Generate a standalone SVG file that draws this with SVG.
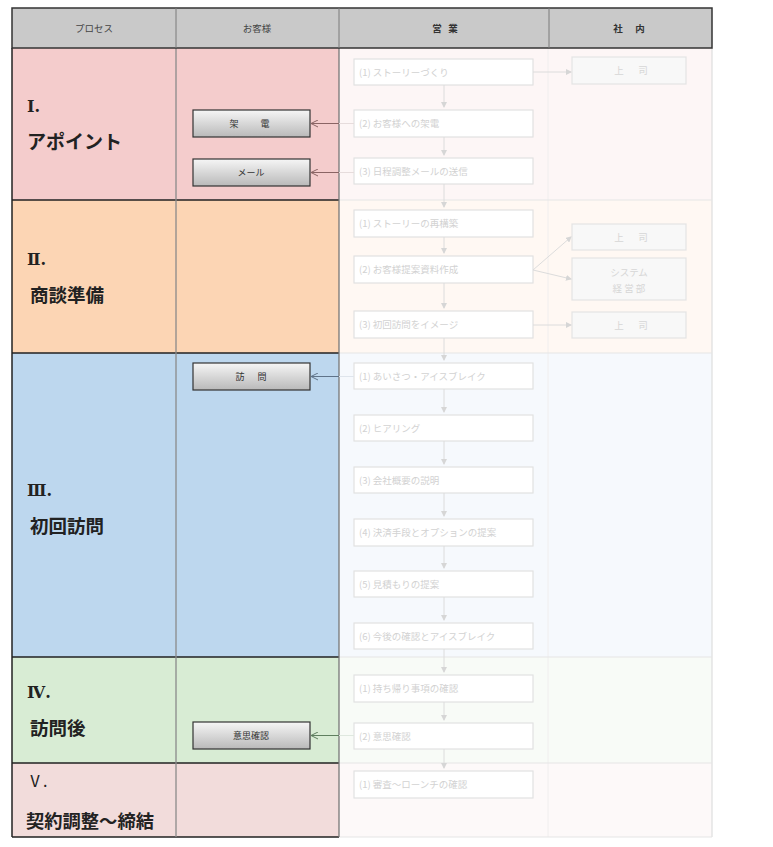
<svg xmlns="http://www.w3.org/2000/svg" width="773" height="847" viewBox="0 0 773 847">
<style>
.hdr{font-family:"Noto Sans CJK JP","Noto Sans",sans-serif;font-size:9.5px;fill:#444;text-anchor:middle}
.lbl{font-family:"Noto Sans CJK JP","Noto Sans",sans-serif;font-weight:bold;fill:#222}
.num{font-family:"DejaVu Serif","Noto Sans CJK JP",serif;font-weight:bold;font-size:16px;fill:#222}
.btn rect{fill:url(#g);stroke:#333;stroke-width:1.2}
.btn text{font-family:"Noto Sans CJK JP","Noto Sans",sans-serif;font-size:9px;fill:#333;text-anchor:middle}
.fb rect{fill:#fff;stroke:#e2e2e2;stroke-width:1.2}
.fb text{font-family:"Noto Sans CJK JP","Noto Sans",sans-serif;font-size:9.5px;fill:#d2d2d2}
.fs rect{fill:#f8f8f8;stroke:#e4e4e4;stroke-width:1.2}
.fs text{font-family:"Noto Sans CJK JP","Noto Sans",sans-serif;font-size:9.5px;fill:#d6d6d6;text-anchor:middle}
.fl{stroke:#dcdcdc;stroke-width:1;fill:none}
</style>
<defs>
<linearGradient id="g" x1="0" y1="0" x2="0" y2="1">
<stop offset="0" stop-color="#f6f6f6"/>
<stop offset="1" stop-color="#b9b9b9"/>
</linearGradient>
<marker id="fa" markerWidth="6" markerHeight="6" refX="5" refY="3" orient="auto" markerUnits="userSpaceOnUse">
<path d="M0,0 L6,3 L0,6 z" fill="#d6d6d6"/>
</marker>
<marker id="oa1" markerWidth="8" markerHeight="8" refX="7" refY="4" orient="auto" markerUnits="userSpaceOnUse">
<path d="M0,0.5 L7,4 L0,7.5" fill="none" stroke="#8a6464" stroke-width="1"/>
</marker>
<marker id="oa3" markerWidth="8" markerHeight="8" refX="7" refY="4" orient="auto" markerUnits="userSpaceOnUse">
<path d="M0,0.5 L7,4 L0,7.5" fill="none" stroke="#5f7389" stroke-width="1"/>
</marker>
<marker id="oa4" markerWidth="8" markerHeight="8" refX="7" refY="4" orient="auto" markerUnits="userSpaceOnUse">
<path d="M0,0.5 L7,4 L0,7.5" fill="none" stroke="#5f7f5f" stroke-width="1"/>
</marker>
</defs>
<rect width="773" height="847" fill="#fff"/>
<g id="backgrounds">
<rect x="12" y="48" width="327" height="152" fill="#f4cccc"/>
<rect x="12" y="200" width="327" height="153" fill="#fcd5b4"/>
<rect x="12" y="353" width="327" height="304" fill="#bdd7ee"/>
<rect x="12" y="657" width="327" height="106" fill="#d8ecd4"/>
<rect x="12" y="763" width="327" height="74" fill="#f2dcdb"/>
<rect x="339" y="48" width="373" height="152" fill="#fdf6f6"/>
<rect x="339" y="200" width="373" height="153" fill="#fff8f3"/>
<rect x="339" y="353" width="373" height="304" fill="#f6f9fd"/>
<rect x="339" y="657" width="373" height="106" fill="#f8fbf7"/>
<rect x="339" y="763" width="373" height="74" fill="#fdf9f9"/>
</g>
<g id="grid">
<line x1="548" y1="48" x2="548" y2="837" stroke="#f0eeee" stroke-width="1"/>
<line x1="712" y1="48" x2="712" y2="837" stroke="#dedede" stroke-width="1.2"/>
<path d="M339,200H712M339,353H712M339,657H712M339,763H712M339,837H712" stroke="#e6e6e6" stroke-width="1.2"/>
<path d="M12,200H339M12,353H339M12,657H339M12,763H339M12,837H339" stroke="#222" stroke-width="1.5"/>
<line x1="12" y1="48" x2="12" y2="837" stroke="#222" stroke-width="1.5"/>
<line x1="176" y1="48" x2="176" y2="837" stroke="#8a8a8a" stroke-width="1.3"/>
<line x1="339" y1="48" x2="339" y2="837" stroke="#777" stroke-width="1.3"/>
</g>
<g id="header">
<rect x="12" y="8" width="700" height="40" fill="#c9c9c9" stroke="#333" stroke-width="1.5"/>
<path d="M176,8V48M339,8V48M549,8V48" stroke="#7a7a7a" stroke-width="1"/>
<text class="hdr" x="94" y="32">プロセス</text>
<text class="hdr" x="257" y="32">お客様</text>
<text class="hdr" x="437 453" y="32" style="font-weight:bold;fill:#333">営業</text>
<text class="hdr" x="618 640" y="32" style="font-weight:bold;fill:#333">社内</text>
</g>
<g id="label-1"><text class="num" x="27" y="112">Ⅰ.</text><text class="lbl" x="27" y="149" font-size="19">アポイント</text></g>
<g id="label-2"><text class="num" x="27" y="265">Ⅱ.</text><text class="lbl" x="30" y="302" font-size="18.5">商談準備</text></g>
<g id="label-3"><text class="num" x="27" y="496">Ⅲ.</text><text class="lbl" x="30" y="533" font-size="18.5">初回訪問</text></g>
<g id="label-4"><text class="num" x="27" y="698">Ⅳ.</text><text class="lbl" x="30" y="735" font-size="18.5">訪問後</text></g>
<g id="label-5"><text class="num" x="27" y="787" style="font-family:'Noto Sans CJK JP',sans-serif;font-weight:normal">Ⅴ.</text><text class="lbl" x="26" y="828" font-size="18.3">契約調整～締結</text></g>
<g id="c-kaden" class="btn"><rect x="193" y="110" width="117" height="27"/><text x="234 265" y="127">架電</text></g>
<g id="c-mail" class="btn"><rect x="193" y="159" width="117" height="27"/><text x="251" y="176">メール</text></g>
<g id="c-houmon" class="btn"><rect x="193" y="363" width="117" height="27"/><text x="240 262" y="380">訪問</text></g>
<g id="c-ishi" class="btn"><rect x="193" y="722" width="117" height="27"/><text x="251" y="739">意思確認</text></g>
<g id="s-1-1" class="fb"><rect x="354" y="59" width="179" height="26"/><text x="359" y="76">(1) ストーリーづくり</text></g>
<g id="s-1-2" class="fb"><rect x="354" y="110" width="179" height="27"/><text x="359" y="127">(2) お客様への架電</text></g>
<g id="s-1-3" class="fb"><rect x="354" y="158" width="179" height="26"/><text x="359" y="175">(3) 日程調整メールの送信</text></g>
<g id="s-2-1" class="fb"><rect x="354" y="210" width="179" height="27"/><text x="359" y="227">(1) ストーリーの再構築</text></g>
<g id="s-2-2" class="fb"><rect x="354" y="256" width="179" height="27"/><text x="359" y="273">(2) お客様提案資料作成</text></g>
<g id="s-2-3" class="fb"><rect x="354" y="311" width="179" height="27"/><text x="359" y="328">(3) 初回訪問をイメージ</text></g>
<g id="s-3-1" class="fb"><rect x="354" y="363" width="179" height="26"/><text x="359" y="380">(1) あいさつ・アイスブレイク</text></g>
<g id="s-3-2" class="fb"><rect x="354" y="415" width="179" height="26"/><text x="359" y="432">(2) ヒアリング</text></g>
<g id="s-3-3" class="fb"><rect x="354" y="467" width="179" height="26"/><text x="359" y="484">(3) 会社概要の説明</text></g>
<g id="s-3-4" class="fb"><rect x="354" y="519" width="179" height="27"/><text x="359" y="536">(4) 決済手段とオプションの提案</text></g>
<g id="s-3-5" class="fb"><rect x="354" y="571" width="179" height="26"/><text x="359" y="588">(5) 見積もりの提案</text></g>
<g id="s-3-6" class="fb"><rect x="354" y="623" width="179" height="26"/><text x="359" y="640">(6) 今後の確認とアイスブレイク</text></g>
<g id="s-4-1" class="fb"><rect x="354" y="675" width="179" height="27"/><text x="359" y="692">(1) 持ち帰り事項の確認</text></g>
<g id="s-4-2" class="fb"><rect x="354" y="723" width="179" height="26"/><text x="359" y="740">(2) 意思確認</text></g>
<g id="s-5-1" class="fb"><rect x="354" y="771" width="179" height="27"/><text x="359" y="788">(1) 審査～ローンチの確認</text></g>
<g id="i-1" class="fs"><rect x="572" y="57" width="114" height="27"/><text x="619 643" y="74">上司</text></g>
<g id="i-2" class="fs"><rect x="572" y="224" width="114" height="26"/><text x="619 643" y="241">上司</text></g>
<g id="i-3" class="fs"><rect x="572" y="258" width="114" height="42"/><text x="629" y="276">システム</text><text x="629" y="292">経 営 部</text></g>
<g id="i-4" class="fs"><rect x="572" y="312" width="114" height="26"/><text x="619 643" y="329">上司</text></g>
<g id="connectors">
<g class="fl" marker-end="url(#fa)">
<line x1="444" y1="85" x2="444" y2="107"/>
<line x1="444" y1="137" x2="444" y2="155"/>
<line x1="444" y1="184" x2="444" y2="207"/>
<line x1="444" y1="237" x2="444" y2="253"/>
<line x1="444" y1="283" x2="444" y2="308"/>
<line x1="444" y1="338" x2="444" y2="360"/>
<line x1="444" y1="389" x2="444" y2="412"/>
<line x1="444" y1="441" x2="444" y2="464"/>
<line x1="444" y1="493" x2="444" y2="516"/>
<line x1="444" y1="546" x2="444" y2="568"/>
<line x1="444" y1="597" x2="444" y2="620"/>
<line x1="444" y1="649" x2="444" y2="672"/>
<line x1="444" y1="702" x2="444" y2="720"/>
<line x1="444" y1="749" x2="444" y2="768"/>
<line x1="533" y1="72" x2="571" y2="72"/>
<line x1="533" y1="270" x2="571" y2="237"/>
<line x1="533" y1="270" x2="571" y2="279"/>
<line x1="533" y1="325" x2="571" y2="325"/>
</g>
<line x1="339" y1="123.5" x2="354" y2="123.5" stroke="#e6dcdc" stroke-width="1"/>
<line x1="339" y1="172.5" x2="354" y2="172.5" stroke="#e6dcdc" stroke-width="1"/>
<line x1="339" y1="376.5" x2="354" y2="376.5" stroke="#dfe5ec" stroke-width="1"/>
<line x1="339" y1="735.5" x2="354" y2="735.5" stroke="#dfe8df" stroke-width="1"/>
<line x1="339" y1="123.5" x2="311" y2="123.5" stroke="#8a6464" stroke-width="1" marker-end="url(#oa1)"/>
<line x1="339" y1="172.5" x2="311" y2="172.5" stroke="#8a6464" stroke-width="1" marker-end="url(#oa1)"/>
<line x1="339" y1="376.5" x2="311" y2="376.5" stroke="#5f7389" stroke-width="1" marker-end="url(#oa3)"/>
<line x1="339" y1="735.5" x2="311" y2="735.5" stroke="#5f7f5f" stroke-width="1" marker-end="url(#oa4)"/>
</g>
</svg>
